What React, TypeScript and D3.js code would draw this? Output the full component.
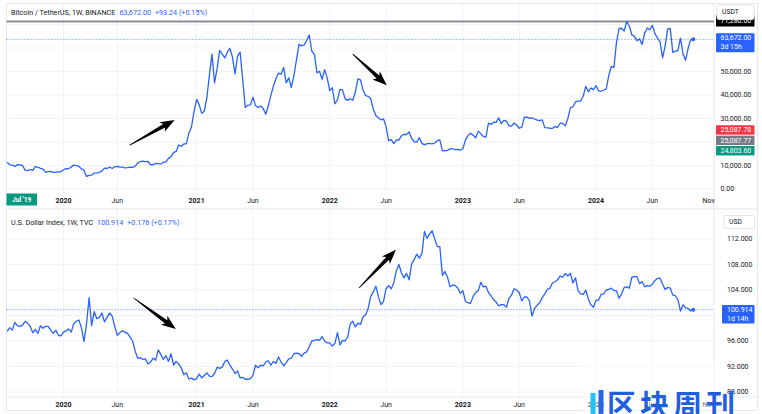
import React from "react";
import * as d3 from "d3";

const W = 762;
const H = 414;

// first weekly bar (Monday open) shared by both panes
const FIRST_WEEK = "2019-08-05";

// BTCUSDT weekly closes
const btc2019 = [11390, 10310, 10140, 9600, 10380, 10300, 10000, 8050, 7850, 8300, 7950, 9550, 9250, 8800, 8500, 7100, 7400, 7500, 7070, 7150, 7250, 7350];
const btc2020 = [8200, 8700, 8600, 9400, 10150, 9900, 9700, 8550, 8000, 5360, 5820, 5880, 6780, 6900, 7120, 7700, 8900, 8720, 9380, 8720, 9450, 9670, 9340, 9300, 9010, 9070, 9250, 9160, 9700, 11050, 11680, 11850, 11650, 11700, 10250, 10320, 10950, 10760, 10670, 11380, 11500, 13030, 13780, 15480, 15980, 18680, 18190, 19150, 19270, 23860, 26490, 33000];
const btc2021 = [38150, 35800, 32260, 33090, 38900, 48580, 57400, 45140, 51200, 59000, 57350, 55800, 58200, 59800, 56150, 49000, 56620, 58240, 46430, 34650, 35680, 35800, 39100, 35500, 34700, 35290, 34240, 31780, 35400, 39850, 43800, 47000, 49320, 48830, 51750, 45150, 47280, 43200, 48200, 54950, 61550, 60930, 61300, 63270, 65470, 58620, 57270, 49400, 50100, 46680, 50800, 47300];
const btc2022 = [41860, 43080, 36280, 37920, 42410, 42200, 38350, 37700, 38420, 37780, 41260, 46830, 46400, 42150, 39710, 39450, 38470, 34060, 31300, 30290, 29450, 29900, 26570, 20550, 21030, 19300, 20850, 20800, 22580, 23300, 23170, 24300, 21520, 20040, 19990, 21830, 19420, 18800, 19310, 19420, 19190, 19570, 20630, 20900, 16330, 16280, 16460, 17100, 17130, 16760, 16840, 16540];
const btc2023 = [17130, 20880, 22710, 23740, 22930, 21780, 24630, 23550, 22350, 22130, 28040, 27490, 28450, 28330, 30300, 27810, 29230, 28860, 26920, 26750, 28080, 27230, 25850, 26340, 30540, 30590, 30170, 30290, 29800, 29280, 29050, 29410, 26100, 26000, 25860, 25830, 26530, 26250, 27970, 27920, 26850, 29990, 34520, 35010, 37060, 37360, 37450, 39460, 43700, 41370, 43010, 42280];
const btc2024 = [43930, 41730, 41580, 42120, 42580, 48300, 52140, 51730, 62400, 68300, 68390, 67210, 71280, 69360, 65660, 64940, 63110, 63890, 61480, 66270, 68510, 67760, 69650, 66220, 64250, 62680, 55850, 60800, 68170, 68250, 58160, 58710, 58940, 64220, 57300, 54840, 59990, 63580, 63672];

// DXY weekly closes
const dxy2019 = [97.5, 98.1, 97.7, 98.9, 98.4, 98.3, 98.5, 99.1, 98.8, 98.3, 97.3, 97.8, 97.2, 98.4, 98.0, 98.3, 98.3, 97.7, 97.2, 97.7, 96.9, 96.8];
const dxy2020 = [97.4, 97.6, 97.9, 97.4, 98.7, 99.1, 99.3, 98.1, 95.9, 98.7, 102.8, 98.4, 100.6, 99.5, 99.7, 100.4, 99.0, 99.7, 100.4, 99.9, 98.3, 96.9, 97.3, 97.6, 97.4, 97.2, 96.6, 96.0, 94.4, 93.3, 93.4, 93.1, 93.2, 92.4, 92.7, 93.3, 93.0, 94.6, 93.9, 93.1, 93.7, 92.8, 94.0, 92.2, 92.8, 92.4, 91.8, 90.7, 91.0, 90.0, 90.2, 89.9];
const dxy2021 = [90.1, 90.8, 90.2, 90.6, 91.0, 90.5, 90.4, 90.9, 91.9, 91.7, 91.9, 92.8, 93.0, 92.2, 91.6, 90.9, 91.3, 90.2, 90.3, 90.0, 90.0, 90.1, 90.6, 92.2, 91.8, 92.2, 92.1, 92.7, 92.9, 92.2, 92.8, 92.5, 93.5, 92.7, 92.1, 92.6, 93.2, 93.3, 94.0, 94.1, 94.0, 93.6, 94.1, 94.3, 95.1, 96.0, 96.1, 96.2, 96.1, 96.7, 96.0, 95.7];
const dxy2022 = [95.7, 95.2, 95.6, 97.3, 95.4, 96.1, 96.0, 96.6, 98.7, 99.1, 98.2, 98.8, 98.6, 99.8, 100.1, 101.1, 103.0, 103.7, 104.6, 103.0, 101.7, 102.2, 104.2, 104.7, 104.2, 105.1, 107.0, 108.0, 106.7, 105.9, 106.6, 105.6, 108.1, 108.8, 109.6, 109.0, 109.7, 113.2, 112.1, 112.8, 113.3, 112.0, 110.8, 110.8, 106.3, 106.9, 106.0, 104.5, 104.8, 104.7, 104.3, 103.5];
const dxy2023 = [103.9, 102.2, 102.0, 101.9, 103.0, 103.6, 103.9, 105.2, 104.5, 104.6, 103.6, 103.1, 102.5, 102.1, 101.5, 101.7, 101.7, 101.3, 102.7, 103.2, 104.2, 104.0, 103.6, 102.3, 102.9, 102.9, 102.3, 99.9, 101.1, 101.6, 102.0, 102.8, 103.4, 104.1, 104.3, 105.1, 105.3, 105.6, 106.2, 106.0, 106.6, 106.2, 106.6, 105.1, 105.9, 103.9, 103.4, 103.3, 104.0, 102.6, 101.7, 101.3];
const dxy2024 = [102.4, 102.4, 103.3, 103.4, 104.0, 104.1, 104.3, 103.9, 103.9, 102.7, 103.4, 104.4, 104.5, 104.3, 106.0, 106.1, 106.1, 105.0, 105.3, 104.5, 104.7, 104.6, 104.9, 105.5, 105.8, 105.9, 104.9, 104.1, 104.4, 104.3, 103.2, 103.1, 102.5, 100.7, 101.7, 101.2, 101.1, 100.7, 100.914];

const btcValues = [...btc2019, ...btc2020, ...btc2021, ...btc2022, ...btc2023, ...btc2024];
const dxyValues = [...dxy2019, ...dxy2020, ...dxy2021, ...dxy2022, ...dxy2023, ...dxy2024];

const timeTicks = [
  { date: "2020-01-06", label: "2020", year: true },
  { date: "2020-06-01", label: "Jun", year: false },
  { date: "2021-01-04", label: "2021", year: true },
  { date: "2021-06-07", label: "Jun", year: false },
  { date: "2022-01-03", label: "2022", year: true },
  { date: "2022-06-06", label: "Jun", year: false },
  { date: "2023-01-02", label: "2023", year: true },
  { date: "2023-06-05", label: "Jun", year: false },
  { date: "2024-01-01", label: "2024", year: true },
  { date: "2024-06-03", label: "Jun", year: false },
  { date: "2024-11-04", label: "Nov", year: false },
];

const btcTicks = [0, 10000, 20000, 30000, 40000, 50000, 60000, 70000];
const dxyTicks = [88, 92, 96, 100, 104, 108, 112];

const btcHigh = 71280.0;
const btcStackLabels = [25087.78, 25087.77, 24803.6];

// hand-drawn arrows, [date, value] pairs
const btcArrows = [
  { from: ["2020-07-05", 18700], to: ["2020-11-05", 29400] },
  { from: ["2022-03-07", 57400], to: ["2022-06-08", 44200] },
];
const dxyArrows = [
  { from: ["2020-07-16", 102.75], to: ["2020-11-08", 97.9] },
  { from: ["2022-03-24", 104.3], to: ["2022-07-03", 110.3] },
];

const BLUE = "#2962ff";
const GRID = "#f0f3fa";
const TEXT = "#131722";
const BORDER = "#e0e3eb";

const parse = d3.timeParse("%Y-%m-%d");
const fmtBtc = d3.format(",.2f");
const fmtDxy = d3.format(".3f");

type Pt = { date: Date; value: number };

function arrowPoints(x1: number, y1: number, x2: number, y2: number) {
  const dx = x2 - x1, dy = y2 - y1;
  const len = Math.hypot(dx, dy);
  const ux = dx / len, uy = dy / len;
  const nx = -uy, ny = ux;
  const hl = 12, hw = 5.5, sw = 2;
  const bx = x2 - ux * hl, by = y2 - uy * hl;
  const wx = bx - ux * 2.5, wy = by - uy * 2.5;
  const pts = [
    [x1 + nx * 0.4, y1 + ny * 0.4],
    [bx + nx * sw, by + ny * sw],
    [wx + nx * hw, wy + ny * hw],
    [x2, y2],
    [wx - nx * hw, wy - ny * hw],
    [bx - nx * sw, by - ny * sw],
    [x1 - nx * 0.4, y1 - ny * 0.4],
  ];
  return pts.map(p => p.join(",")).join(" ");
}

// drop axis labels that sit under a coloured price label
function freeTicks(ticks: number[], y: (v: number) => number, boxes: [number, number][]) {
  return ticks.filter(v => !boxes.some(([a, b]) => y(v) + 4 > a && y(v) - 4 < b));
}

export default function App() {
  const t0 = parse(FIRST_WEEK)!;
  const btc: Pt[] = btcValues.map((v, i) => ({ date: d3.timeDay.offset(t0, 7 * i), value: v }));
  const dxy: Pt[] = dxyValues.map((v, i) => ({ date: d3.timeDay.offset(t0, 7 * i), value: v }));

  const plotL = 6.5;
  const plotR = 714;
  const top = { y0: 4, y1: 193 };
  const bot = { y0: 209.5, y1: 397 };

  const x = d3.scaleTime()
    .domain([parse("2020-01-06")!, parse("2024-01-01")!])
    .range([63.5, 596]);
  const yB = d3.scaleLinear().domain([0, 50000]).range([189, 71.5]);
  const yD = d3.scaleLinear().domain([88, 112]).range([392, 239]);

  const lineB = d3.line<Pt>().x(d => x(d.date)).y(d => yB(d.value));
  const lineD = d3.line<Pt>().x(d => x(d.date)).y(d => yD(d.value));

  const lastB = btc[btc.length - 1];
  const lastD = dxy[dxy.length - 1];

  const ticks = timeTicks.map(t => ({ ...t, x: x(parse(t.date)!) }));

  const axisX = 720.5;
  const axisXD = 727;
  const labelW = 38.5;

  const stackColors = ["#f23645", "#787b86", "#089981"];
  const stackTop = yB(btcStackLabels[0]) - 4.8;
  const stackStep = 10.4;

  const highY = yB(btcHigh);
  const lastBY = yB(lastB.value);
  const lastDY = yD(lastD.value);

  const btcLabelTicks = freeTicks(btcTicks, yB, [
    [0, 20],
    [highY - 5.5, highY + 5.5],
    [lastBY - 6, lastBY + 13],
    [stackTop, stackTop + stackStep * btcStackLabels.length],
  ]);
  const dxyLabelTicks = freeTicks(dxyTicks, yD, [
    [lastDY - 4.7, lastDY + 13.8],
  ]);

  return (
    <svg
      width={W}
      height={H}
      style={{ position: "fixed", left: 0, top: 0, background: "#fff" }}
      fontFamily="Roboto, 'Noto Sans', sans-serif"
    >
      <defs>
        <clipPath id="clipTop">
          <rect x={plotL} y={top.y0} width={plotR - plotL} height={top.y1 - top.y0} />
        </clipPath>
        <clipPath id="clipBot">
          <rect x={plotL} y={bot.y0} width={plotR - plotL} height={bot.y1 - bot.y0} />
        </clipPath>
      </defs>
      <rect width={W} height={H} fill="#fff" />

      {/* grid */}
      {ticks.filter(t => t.x < plotR - 8).map(t => (
        <g key={"vg" + t.date}>
          <line x1={t.x} x2={t.x} y1={top.y0} y2={top.y1} stroke={GRID} />
          <line x1={t.x} x2={t.x} y1={bot.y0} y2={bot.y1} stroke={GRID} />
        </g>
      ))}
      {btcTicks.map(v => (
        <line key={"hb" + v} x1={plotL} x2={plotR} y1={yB(v)} y2={yB(v)} stroke={GRID} />
      ))}
      {dxyTicks.map(v => (
        <line key={"hd" + v} x1={plotL} x2={plotR} y1={yD(v)} y2={yD(v)} stroke={GRID} />
      ))}

      {/* frame */}
      <rect x={plotL} y={3.5} width={757.5 - plotL} height={407} fill="none" stroke={BORDER} strokeWidth={0.8} />
      <line x1={plotL} x2={757.5} y1={bot.y0 - 0.5} y2={bot.y0 - 0.5} stroke={BORDER} strokeWidth={1} />
      <line x1={plotL} x2={757.5} y1={bot.y1} y2={bot.y1} stroke={BORDER} strokeWidth={0.8} />
      <line x1={plotR} x2={plotR} y1={3.5} y2={bot.y1} stroke={BORDER} strokeWidth={0.8} />

      {/* reference lines */}
      <line x1={plotL} x2={plotR} y1={highY} y2={highY} stroke="#8a8d96" strokeWidth={2} />
      <line x1={plotL} x2={plotR} y1={lastBY} y2={lastBY} stroke={BLUE} strokeWidth={0.8} strokeDasharray="1 2" />
      <line x1={plotL} x2={plotR} y1={lastDY} y2={lastDY} stroke={BLUE} strokeWidth={0.8} strokeDasharray="1 2" />

      {/* series */}
      <g clipPath="url(#clipTop)">
        <path d={lineB(btc) ?? ""} fill="none" stroke={BLUE} strokeWidth={1.3} strokeLinejoin="round" />
        <circle cx={x(lastB.date)} cy={lastBY} r={2} fill={BLUE} />
      </g>
      <g clipPath="url(#clipBot)">
        <path d={lineD(dxy) ?? ""} fill="none" stroke={BLUE} strokeWidth={1.3} strokeLinejoin="round" />
        <circle cx={x(lastD.date)} cy={lastDY} r={2} fill={BLUE} />
      </g>

      {/* arrows */}
      {btcArrows.map((a, i) => (
        <polygon key={"ab" + i} fill="#000"
          points={arrowPoints(x(parse(a.from[0] as string)!), yB(a.from[1] as number), x(parse(a.to[0] as string)!), yB(a.to[1] as number))} />
      ))}
      {dxyArrows.map((a, i) => (
        <polygon key={"ad" + i} fill="#000"
          points={arrowPoints(x(parse(a.from[0] as string)!), yD(a.from[1] as number), x(parse(a.to[0] as string)!), yD(a.to[1] as number))} />
      ))}

      {/* legends */}
      <text x={11} y={14.5} fontSize={7.2} fill={TEXT}>
        Bitcoin / TetherUS, 1W, BINANCE
        <tspan dx={4} fill={BLUE}>{fmtBtc(lastB.value)}</tspan>
        <tspan dx={4} fill={BLUE}>+93.24 (+0.15%)</tspan>
      </text>
      <text x={11} y={225} fontSize={7.2} fill={TEXT}>
        U.S. Dollar Index, 1W, TVC
        <tspan dx={4} fill={BLUE}>{fmtDxy(lastD.value)}</tspan>
        <tspan dx={4} fill={BLUE}>+0.176 (+0.17%)</tspan>
      </text>

      {/* price axis labels */}
      {btcLabelTicks.map(v => (
        <text key={"tb" + v} x={axisX} y={yB(v)} dy="0.35em" fontSize={7} fill={TEXT}>{fmtBtc(v)}</text>
      ))}
      {dxyLabelTicks.map(v => (
        <text key={"td" + v} x={axisXD} y={yD(v)} dy="0.35em" fontSize={7} fill={TEXT}>{fmtDxy(v)}</text>
      ))}

      {/* high label, mostly hidden under the unit button */}
      <rect x={716} y={highY - 6} width={labelW} height={11} fill="#000" />
      <text x={axisX} y={highY - 1} dy="0.35em" fontSize={7} fill="#fff">{fmtBtc(btcHigh)}</text>

      {/* stacked price labels */}
      {btcStackLabels.map((v, i) => (
        <g key={"sl" + i}>
          <rect x={716} y={stackTop + i * stackStep} width={labelW} height={9.4} fill={stackColors[i]} />
          <text x={axisX} y={stackTop + i * stackStep + 4.7} dy="0.35em" fontSize={7} fill="#fff">{fmtBtc(v)}</text>
        </g>
      ))}

      {/* last price labels */}
      <rect x={716} y={lastBY - 6} width={labelW} height={19} fill={BLUE} rx={1} />
      <text x={axisX} y={lastBY - 1.5} dy="0.35em" fontSize={7} fill="#fff">{fmtBtc(lastB.value)}</text>
      <text x={axisX} y={lastBY + 7.5} dy="0.35em" fontSize={7} fill="#fff">3d 15h</text>

      <rect x={722} y={lastDY - 4.7} width={32.5} height={18.5} fill={BLUE} rx={1} />
      <text x={axisXD} y={lastDY + 0.3} dy="0.35em" fontSize={7} fill="#fff">{fmtDxy(lastD.value)}</text>
      <text x={axisXD} y={lastDY + 9.3} dy="0.35em" fontSize={7} fill="#fff">1d 14h</text>

      {/* unit buttons */}
      <rect x={717} y={5} width={37} height={14.5} rx={2} fill="#fff" stroke={BORDER} />
      <text x={722} y={12} dy="0.35em" fontSize={6.8} fill={TEXT}>USDT</text>
      <rect x={724} y={215.5} width={31} height={13} rx={2} fill="#fff" stroke={BORDER} />
      <text x={729} y={222} dy="0.35em" fontSize={6.8} fill={TEXT}>USD</text>

      {/* time axes */}
      {ticks.map(t => (
        <g key={"xl" + t.date}>
          <text x={t.x} y={201} dy="0.35em" textAnchor="middle" fontSize={7} fontWeight={t.year ? 700 : 400} fill={TEXT}>{t.label}</text>
          <text x={t.x} y={404.5} dy="0.35em" textAnchor="middle" fontSize={7} fontWeight={t.year ? 700 : 400} fill={TEXT}>{t.label}</text>
        </g>
      ))}
      <rect x={6.5} y={193.5} width={30.5} height={12} fill="#089981" />
      <text x={21.7} y={199.5} dy="0.35em" textAnchor="middle" fontSize={6.6} fontWeight={700} fill="#fff">Jul '19</text>

      {/* watermark */}
      <rect x={583} y={363} width={135} height={51} fill="#fff" opacity={0.4} />
      <rect x={590.5} y={393} width={5} height={21} fill="#20c4f4" />
      <rect x={598.5} y={390} width={5} height={24} fill="#2565e8" />
      <text x={607} y={416} fontSize={29} fontWeight={700} letterSpacing={4} fill="#1f5fe0"
        fontFamily="'Noto Sans CJK SC', sans-serif">区块周刊</text>
    </svg>
  );
}
